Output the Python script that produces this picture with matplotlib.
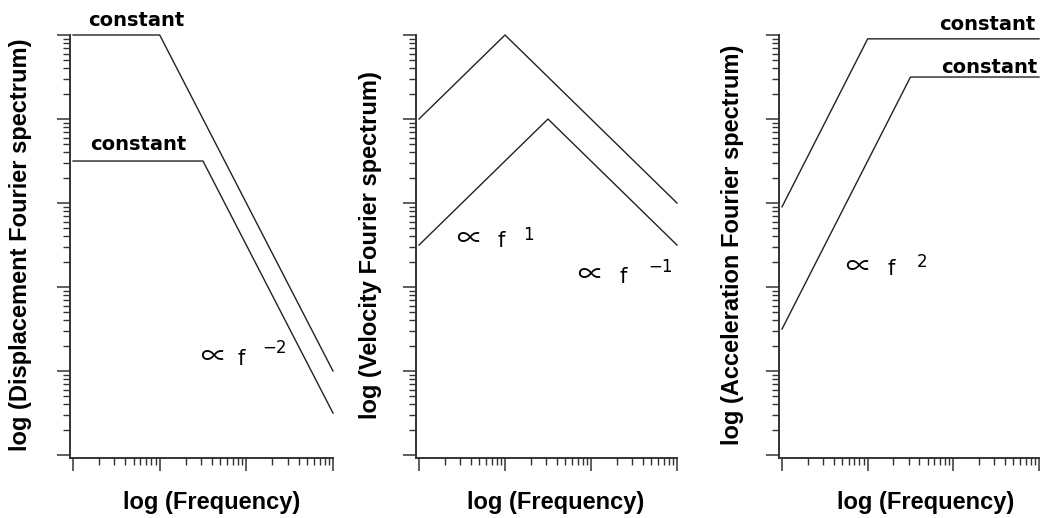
import numpy as np
import matplotlib
matplotlib.use('Agg')
import matplotlib.pyplot as plt
from matplotlib.ticker import LogLocator, NullFormatter

# corner frequencies and spectral levels (log-log sketches)
disp_f_upper = [1, 10, 1000]
disp_a_upper = [1e5, 1e5, 1e1]
disp_f_lower = [1, 31.6, 1000]
disp_a_lower = [3162, 3162, 3.16]

vel_f_upper = [1, 10, 1000]
vel_a_upper = [1e4, 1e5, 1e3]
vel_f_lower = [1, 31.6, 1000]
vel_a_lower = [316, 1e4, 316]

acc_f_upper = [1, 10, 1000]
acc_a_upper = [900, 9e4, 9e4]
acc_f_lower = [1, 31.6, 1000]
acc_a_lower = [31.6, 3.16e4, 3.16e4]

ylabels = ['log (Displacement Fourier spectrum)',
           'log (Velocity Fourier spectrum)',
           'log (Acceleration Fourier spectrum)']
xlabel = 'log (Frequency)'

LINE = '#222222'
AXC = '#333333'


def setup_axes(ax, ylab, ylab_x, xlab_x):
    ax.set_xscale('log')
    ax.set_yscale('log')
    ax.set_xlim(10 ** -0.035, 1000)
    ax.set_ylim(10 ** -0.035, 1e5)
    for s in ['top', 'right']:
        ax.spines[s].set_visible(False)
    for s in ['left', 'bottom']:
        ax.spines[s].set_linewidth(1.4)
        ax.spines[s].set_color(AXC)
    for axis in [ax.xaxis, ax.yaxis]:
        axis.set_major_locator(LogLocator(base=10, numticks=20))
        axis.set_minor_locator(LogLocator(base=10, subs=np.arange(2, 10), numticks=20))
        axis.set_major_formatter(NullFormatter())
        axis.set_minor_formatter(NullFormatter())
    ax.tick_params(which='major', length=9.5, width=1.1, color=AXC, direction='out')
    ax.tick_params(which='minor', length=5, width=1.0, color=AXC, direction='out')

    ax.set_ylabel(ylab, fontsize=17, fontweight='bold', family='Liberation Sans')
    ax.yaxis.set_label_coords(ylab_x, 0.504)
    ax.yaxis.label.set_verticalalignment('center')
    ax.set_xlabel(xlabel, fontsize=17, fontweight='bold', family='Liberation Sans')
    ax.xaxis.set_label_coords(xlab_x, -0.106)
    ax.xaxis.label.set_verticalalignment('center')


def prop_label(ax, x_prop, x_f, x_sup, y, y_sup, sup):
    kw = dict(transform=ax.transAxes, va='baseline', ha='left', color='black',
              clip_on=False)
    ax.text(x_prop, y, '\u221d', fontsize=19, family=['Noto Sans CJK JP', 'DejaVu Sans'], **kw)
    ax.text(x_f, y, 'f', fontsize=15, family='DejaVu Sans', **kw)
    ax.text(x_sup, y_sup, sup, fontsize=12, family='DejaVu Sans', **kw)


def const_label(ax, x, y, ha='left'):
    ax.text(x, y, 'constant', transform=ax.transAxes, fontsize=14,
            fontweight='bold', family='DejaVu Sans', ha=ha, va='baseline',
            clip_on=False)


fig = plt.figure(figsize=(10.4, 5.18), dpi=100)
fig.patch.set_facecolor('white')
ax1 = fig.add_axes([70 / 1040, 60 / 518, 263 / 1040, 423 / 518])
ax2 = fig.add_axes([416 / 1040, 60 / 518, 261 / 1040, 423 / 518])
ax3 = fig.add_axes([779 / 1040, 60 / 518, 260 / 1040, 423 / 518])

# displacement
ax1.plot(disp_f_upper, disp_a_upper, color=LINE, lw=1.0, clip_on=False)
ax1.plot(disp_f_lower, disp_a_lower, color=LINE, lw=1.0, clip_on=False)
setup_axes(ax1, ylabels[0], -0.19, 0.54)
const_label(ax1, 0.068, 1.021)
const_label(ax1, 0.076, 0.728)
prop_label(ax1, 0.494, 0.635, 0.73, 0.22, 0.248, '\u22122')

# velocity
ax2.plot(vel_f_upper, vel_a_upper, color=LINE, lw=1.0, clip_on=False)
ax2.plot(vel_f_lower, vel_a_lower, color=LINE, lw=1.0, clip_on=False)
setup_axes(ax2, ylabels[1], -0.176, 0.536)
prop_label(ax2, 0.153, 0.314, 0.41, 0.499, 0.515, '1')
prop_label(ax2, 0.617, 0.778, 0.889, 0.414, 0.44, '\u22121')

# acceleration
ax3.plot(acc_f_upper, acc_a_upper, color=LINE, lw=1.0, clip_on=False)
ax3.plot(acc_f_lower, acc_a_lower, color=LINE, lw=1.0, clip_on=False)
setup_axes(ax3, ylabels[2], -0.177, 0.565)
const_label(ax3, 0.985, 1.012, ha='right')
const_label(ax3, 0.992, 0.91, ha='right')
prop_label(ax3, 0.254, 0.419, 0.531, 0.433, 0.452, '2')

fig.savefig('out.png', dpi=100, facecolor='white')
